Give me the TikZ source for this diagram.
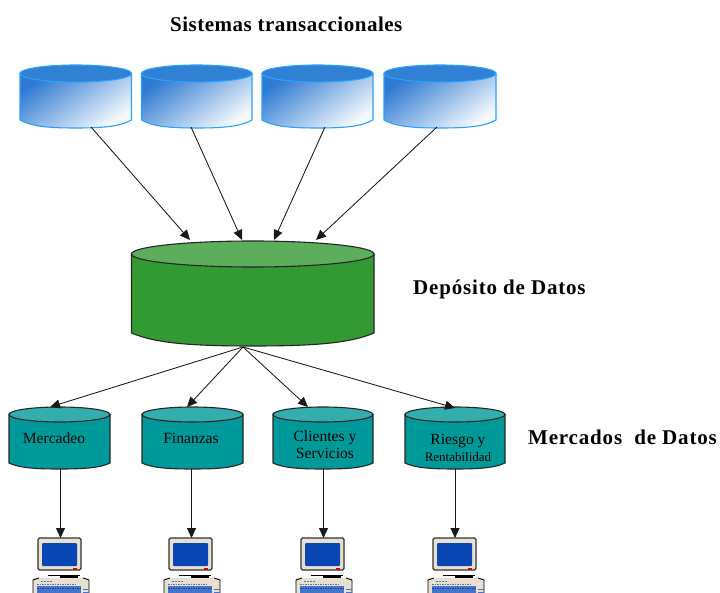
\documentclass[tikz,border=0pt]{standalone}
\usepackage{fontspec}
\setmainfont{Liberation Serif}
\usetikzlibrary{arrows.meta}
\definecolor{blueTop}{HTML}{3080D4}
\definecolor{blueDeep}{HTML}{2F7AD2}
\definecolor{blueLight}{HTML}{F4F9FD}
\definecolor{blueEdge}{HTML}{2AA0FF}
\definecolor{greenBody}{HTML}{339933}
\definecolor{greenTop}{HTML}{5CAD5C}
\definecolor{tealBody}{HTML}{009999}
\definecolor{tealTop}{HTML}{33ADAD}
\definecolor{pcCase}{HTML}{E8E0D0}
\definecolor{pcScreen}{HTML}{0A46B4}
\tikzset{
  x=1pt,y=-1pt,
  conn/.style={draw=black!90,line width=0.85pt,-{Triangle[length=10pt,width=9pt]}},
  headlabel/.style={font=\bfseries\fontsize{21}{24}\selectfont,anchor=west,inner sep=0pt},
  cyllabel/.style={font=\fontsize{15.6}{17}\selectfont,align=center,inner sep=0pt},
}
% #1 left, #2 right, #3 top, #4 mid of top ellipse, #5 side bottom, #6 bottom, #7 body style, #8 top fill, #9 edge
\newcommand{\cylshape}[9]{%
  \path[#7,draw=#9,line width=1.1pt]
    (#1,#4) -- (#1,#5)
    .. controls (#1+0.1*#2-0.1*#1,#6-0.2*#6+0.2*#5) and (#1+0.25*#2-0.25*#1,#6) .. ({0.5*(#1+#2)},#6)
    .. controls (#1+0.75*#2-0.75*#1,#6) and (#1+0.9*#2-0.9*#1,#6-0.2*#6+0.2*#5) .. (#2,#5)
    -- (#2,#4) -- cycle;
  \path[fill=#8,draw=#9,line width=1.1pt]
    ({0.5*(#1+#2)},#4) ellipse [x radius={0.5*(#2-#1)},y radius={#4-#3}];
}
% computer at left x, top y
\newcommand{\pcicon}[2]{%
  \begin{scope}[shift={(#1,#2)}]
    \fill[pcCase] (-5,40) rectangle (51,60);
    \draw[black,line width=0.8pt] (-5,55) -- (-5,42) -- (1,40) (51,55) -- (51,42) -- (45,40);
    \fill[white] (17,32) rectangle (31,37);
    \fill[black] (22,37) rectangle (40,40);
    \draw[black,line width=0.8pt] (10,37) -- (42,37);
    \fill[pcCase,rounded corners=1.5pt] (0,0) rectangle (43,32);
    \draw[black!80,line width=1.2pt,rounded corners=1.5pt] (0,0) rectangle (43,32);
    \fill[pcScreen,rounded corners=1pt] (4,5) rectangle (39,28);
    \fill[red!85!black] (35,30) rectangle (39,31.5);
    \fill[pcScreen!75!white] (-1,48) rectangle (43,55);
    \draw[pcScreen!75!white,line width=1pt,dash pattern=on 1.5pt off 1pt] (-1,46) -- (38,46) (-1,51) -- (38,51) (-1,54) -- (38,54);
    \draw[pcScreen,line width=0.6pt,dash pattern=on 1.5pt off 1pt] (-1,50) -- (43,50);
    \draw[pcScreen!75!white,line width=0.9pt] (45,51) -- (51,51) (45,54) -- (51,54);
    \draw[pcScreen!75!white,line width=1pt,dash pattern=on 1.5pt off 1.5pt] (3,43) -- (14,43);
  \end{scope}%
}
\begin{document}
\begin{tikzpicture}
\useasboundingbox (0,0) rectangle (720,593);
\fill[white] (0,0) rectangle (720,593);
\clip (0,0) rectangle (720,593);

\tikzset{bluebody/.style={top color=blueDeep,bottom color=blueLight,shading angle=35}}
\cylshape{20}{131.5}{65}{73.5}{120}{128}{bluebody}{blueTop}{blueEdge}
\cylshape{141.5}{252}{65}{73.5}{120}{128}{bluebody}{blueTop}{blueEdge}
\cylshape{262}{373}{65}{73.5}{120}{128}{bluebody}{blueTop}{blueEdge}
\cylshape{384}{496}{65}{73.5}{120}{128}{bluebody}{blueTop}{blueEdge}

\cylshape{131.5}{374}{241}{254}{333}{346}{fill=greenBody}{greenTop}{black!85}

\cylshape{9}{110}{407}{414.5}{463}{469}{fill=tealBody}{tealTop}{black!85}
\cylshape{142}{243}{407}{414.5}{463}{469}{fill=tealBody}{tealTop}{black!85}
\cylshape{273}{373}{407}{414.5}{463}{469}{fill=tealBody}{tealTop}{black!85}
\cylshape{405}{505}{407}{414.5}{463}{469}{fill=tealBody}{tealTop}{black!85}

\node[headlabel] (tTrans) at (170,24) {\addfontfeatures{LetterSpace=2.4}Sistemas transaccionales};
\node[headlabel] (tDep) at (413,289) {\addfontfeatures{LetterSpace=3.9}Depósito de Datos};
\node[headlabel] (tMerc) at (528,437) {\addfontfeatures{LetterSpace=3.9}Mercados\ \ de Datos};

\node[cyllabel] (l1) at (54,438) {Mercadeo};
\node[cyllabel] (l2) at (191,438) {Finanzas};
\node[cyllabel] (l3) at (325,445) {Clientes y\\Servicios};
\node[cyllabel] (l4) at (458,448) {Riesgo y\\{\fontsize{13}{13}\selectfont Rentabilidad}};

\coordinate (s1) at (91,127);
\coordinate (s2) at (191,127);
\coordinate (s3) at (325,127);
\coordinate (s4) at (437,127);
\coordinate (d1) at (190,240);
\coordinate (d2) at (242,240);
\coordinate (d3) at (274,240);
\coordinate (d4) at (316,240);
\coordinate (hub) at (243,347);
\coordinate (m1) at (50,407);
\coordinate (m2) at (187,407);
\coordinate (m3) at (308,407);
\coordinate (m4) at (455,408);
\coordinate (b1) at (60.5,469);
\coordinate (b2) at (191.5,469);
\coordinate (b3) at (323.5,469);
\coordinate (b4) at (455,469);
\coordinate (c1) at (60.5,538);
\coordinate (c2) at (191.5,538);
\coordinate (c3) at (323.5,538);
\coordinate (c4) at (455,538);

\foreach \a/\b in {s1/d1,s2/d2,s3/d3,s4/d4,hub/m1,hub/m2,hub/m3,hub/m4,b1/c1,b2/c2,b3/c3,b4/c4}
  \draw[conn] (\a) -- (\b);

\pcicon{38}{538}
\pcicon{169}{538}
\pcicon{301}{538}
\pcicon{433}{538}
\end{tikzpicture}
\end{document}
